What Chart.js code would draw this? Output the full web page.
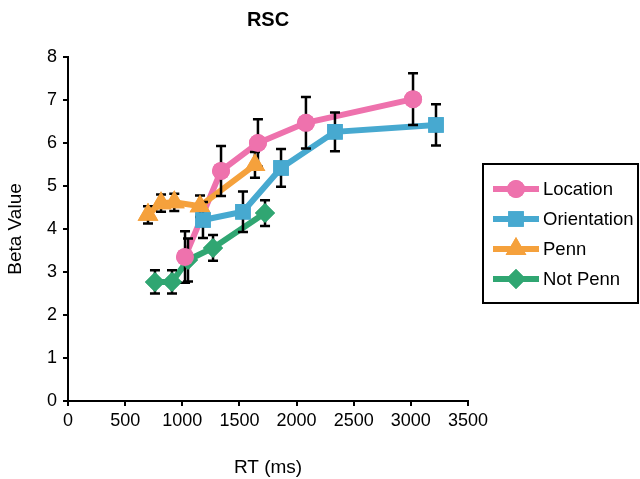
<!DOCTYPE html>
<html>
<head>
<meta charset="utf-8">
<script src="https://cdn.jsdelivr.net/npm/chart.js@4/dist/chart.umd.min.js"></script>
<style>
  body { margin: 0; background: #fff; }
</style>
</head>
<body>
<canvas id="grafico" width="640" height="479"></canvas>
<script>
const seriesNames = ["Location", "Orientation", "Penn", "Not Penn"];

const locationRT = [1024, 1339, 1662, 2082, 3019];
const locationBeta = [3.35, 5.35, 6.0, 6.47, 7.02];
const locationErr = [0.6, 0.58, 0.55, 0.6, 0.6];

const orientationRT = [1181, 1531, 1864, 2336, 3220];
const orientationBeta = [4.21, 4.4, 5.42, 6.26, 6.42];
const orientationErr = [0.42, 0.47, 0.44, 0.45, 0.48];

const pennRT = [700, 814, 930, 1155, 1636];
const pennBeta = [4.33, 4.6, 4.62, 4.53, 5.49];
const pennErr = [0.2, 0.2, 0.2, 0.25, 0.3];

const notPennRT = [761, 910, 1050, 1269, 1724];
const notPennBeta = [2.77, 2.77, 3.28, 3.56, 4.37];
const notPennErr = [0.27, 0.27, 0.5, 0.3, 0.3];

const xTicks = [0, 500, 1000, 1500, 2000, 2500, 3000, 3500];
const yTicks = [0, 1, 2, 3, 4, 5, 6, 7, 8];

const cores = ["#ee72ad", "#47a9d0", "#f5a13c", "#30a672"];
const pontos = ["circle", "rect", "triangle", "rectRot"];
const raios = [9, 11, 12, 10];

function junta(xs, ys) {
  return xs.map((x, i) => ({ x: x, y: ys[i] }));
}

const dadosX = [locationRT, orientationRT, pennRT, notPennRT];
const dadosY = [locationBeta, orientationBeta, pennBeta, notPennBeta];
const erros = [locationErr, orientationErr, pennErr, notPennErr];

const fonte = "'Liberation Sans', Arial, sans-serif";

/* barras de erro, desenhadas por baixo dos marcadores */
const barrasErro = {
  id: "barrasErro",
  afterDatasetsDraw(chart) {
    const c = chart.ctx;
    const sx = chart.scales.x, sy = chart.scales.y;
    c.save();
    c.strokeStyle = "#000";
    c.lineWidth = 2.5;
    dadosX.forEach((xs, s) => {
      xs.forEach((xv, i) => {
        const px = sx.getPixelForValue(xv);
        const top = sy.getPixelForValue(dadosY[s][i] + erros[s][i]);
        const bot = sy.getPixelForValue(dadosY[s][i] - erros[s][i]);
        c.beginPath();
        c.moveTo(px, top); c.lineTo(px, bot);
        c.moveTo(px - 5, top); c.lineTo(px + 5, top);
        c.moveTo(px - 5, bot); c.lineTo(px + 5, bot);
        c.stroke();
      });
    });
    c.restore();
    // redesenha os marcadores por cima
    for (let s = chart.data.datasets.length - 1; s >= 0; s--) {
      const meta = chart.getDatasetMeta(s);
      meta.data.forEach(p => p.draw(c, chart.chartArea));
    }
  }
};

/* titulo e legenda com caixa */
const extras = {
  id: "extras",
  afterDraw(chart) {
    const c = chart.ctx;
    const a = chart.chartArea;
    c.save();
    c.fillStyle = "#000";
    c.font = "bold 20px " + fonte;
    c.textAlign = "center";
    c.textBaseline = "middle";
    c.fillText("RSC", (a.left + a.right) / 2, 20);

    c.lineWidth = 2;
    c.strokeStyle = "#000";
    c.strokeRect(483, 164, 155, 139);
    c.font = "18.5px " + fonte;
    c.textAlign = "left";
    seriesNames.forEach((nome, i) => {
      const y = 189 + i * 30;
      c.strokeStyle = cores[i];
      c.lineWidth = 6;
      c.beginPath();
      c.moveTo(493, y); c.lineTo(539, y);
      c.stroke();
      c.fillStyle = cores[i];
      Chart.helpers.drawPoint(c, { pointStyle: pontos[i], radius: raios[i], rotation: 0, borderWidth: 0 }, 516, y);
      c.fill();
      c.fillStyle = "#000";
      c.fillText(nome, 543, y + 1);
    });
    c.restore();
  }
};

const ctx = document.getElementById("grafico");

new Chart(ctx, {
  type: "line",
  data: {
    datasets: seriesNames.map((nome, i) => ({
      label: nome,
      data: junta(dadosX[i], dadosY[i]),
      borderColor: cores[i],
      backgroundColor: cores[i],
      borderWidth: 6,
      pointStyle: pontos[i],
      pointRadius: raios[i],
      pointBorderWidth: 0,
      pointBackgroundColor: cores[i],
      order: 3 - i,
      tension: 0
    }))
  },
  options: {
    responsive: false,
    devicePixelRatio: 1,
    animation: false,
    layout: { padding: { top: 57, right: 172, left: 0, bottom: 0 } },
    plugins: {
      legend: { display: false },
      tooltip: { enabled: false }
    },
    scales: {
      x: {
        type: "linear",
        min: 0,
        max: 3500,
        afterBuildTicks: (s) => { s.ticks = xTicks.map(v => ({ value: v })); },
        afterFit: (s) => { s.height = 78; },
        grid: { display: true, drawOnChartArea: false, drawTicks: true, tickLength: 5, color: "#000", lineWidth: 2 },
        border: { color: "#000", width: 2 },
        ticks: { color: "#000", font: { family: fonte, size: 18 }, padding: 4, maxRotation: 0, callback: (v) => String(v) },
        title: { display: true, text: "RT (ms)", color: "#000", font: { family: fonte, size: 19 }, padding: { top: 0, bottom: 0 } }
      },
      y: {
        min: 0,
        max: 8,
        afterBuildTicks: (s) => { s.ticks = yTicks.map(v => ({ value: v })); },
        afterFit: (s) => { s.width = 68; },
        grid: { display: true, drawOnChartArea: false, drawTicks: true, tickLength: 5, color: "#000", lineWidth: 2 },
        border: { color: "#000", width: 2 },
        ticks: { color: "#000", font: { family: fonte, size: 18 }, padding: 6, callback: (v) => String(v) },
        title: { display: true, text: "Beta Value", color: "#000", font: { family: fonte, size: 19 }, padding: { top: 4, bottom: 0 } }
      }
    }
  },
  plugins: [barrasErro, extras]
});
</script>
</body>
</html>
